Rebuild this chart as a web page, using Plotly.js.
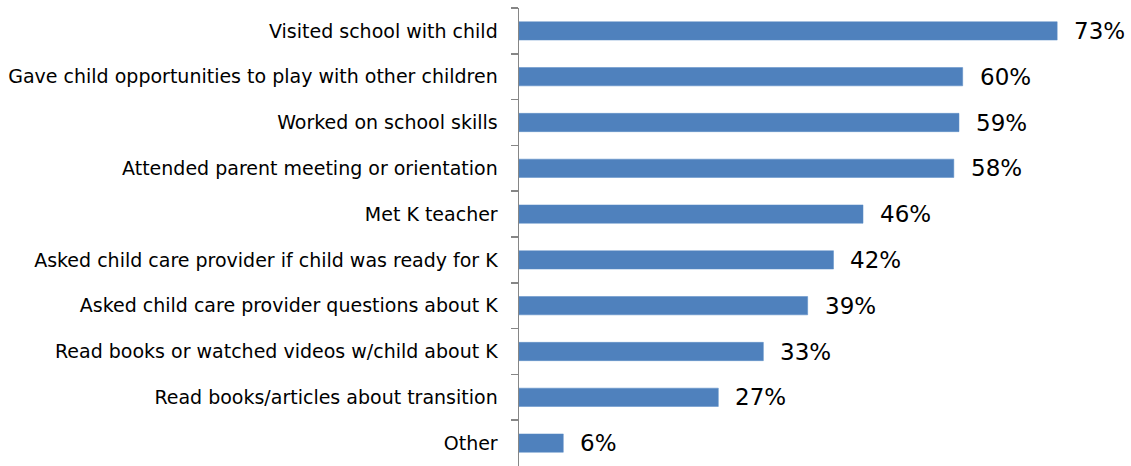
<!DOCTYPE html>
<html>
<head>
<meta charset="utf-8">
<script src="https://cdn.plot.ly/plotly-3.0.1.min.js"></script>
<style>html,body{margin:0;padding:0;background:#fff;}#chart{width:1131px;height:466px;}</style>
</head>
<body>
<div id="chart"></div>
<script>
const categories = [
  "Visited school with child",
  "Gave child opportunities to play with other children",
  "Worked on school skills",
  "Attended parent meeting or orientation",
  "Met K teacher",
  "Asked child care provider if child was ready for K",
  "Asked child care provider questions about K",
  "Read books or watched videos w/child about K",
  "Read books/articles about transition",
  "Other"
];
// bar lengths (percent)
const percentages = [72.9, 60.1, 59.6, 58.9, 46.6, 42.6, 39.1, 33.1, 27.0, 6.0];
// data labels as printed on the chart
const valueLabels = ["73%", "60%", "59%", "58%", "46%", "42%", "39%", "33%", "27%", "6%"];

const FONT = "DejaVu Sans, sans-serif";

const trace = {
  type: "bar",
  orientation: "h",
  y: categories,
  x: percentages,
  marker: { color: "#4f81bd", line: { color: "#5b8cc6", width: 0.5 } },
  hoverinfo: "none"
};

const annotations = categories.map((c, i) => ({
  x: percentages[i],
  y: c,
  xref: "x",
  yref: "y",
  text: valueLabels[i],
  showarrow: false,
  xanchor: "left",
  yanchor: "middle",
  xshift: 15,
  font: { family: FONT, size: 23, color: "#000" }
}));

const layout = {
  width: 1131,
  height: 466,
  margin: { l: 519, r: 0, t: 8, b: 0, pad: 0 },
  paper_bgcolor: "#fff",
  plot_bgcolor: "#fff",
  showlegend: false,
  bargap: 0.6,
  xaxis: {
    range: [0, 82.9],
    visible: false,
    showgrid: false,
    zeroline: false,
    fixedrange: true
  },
  yaxis: {
    type: "category",
    autorange: "reversed",
    showline: true,
    linecolor: "#868686",
    linewidth: 1.5,
    ticks: "outside",
    ticklen: 7,
    tickwidth: 1.5,
    tickcolor: "#868686",
    tickson: "boundaries",
    showgrid: false,
    zeroline: false,
    ticklabelstandoff: 16,
    tickfont: { family: FONT, size: 19, color: "#000" },
    fixedrange: true
  },
  annotations: annotations
};

Plotly.newPlot("chart", [trace], layout, { displayModeBar: false, staticPlot: true });
</script>
</body>
</html>
